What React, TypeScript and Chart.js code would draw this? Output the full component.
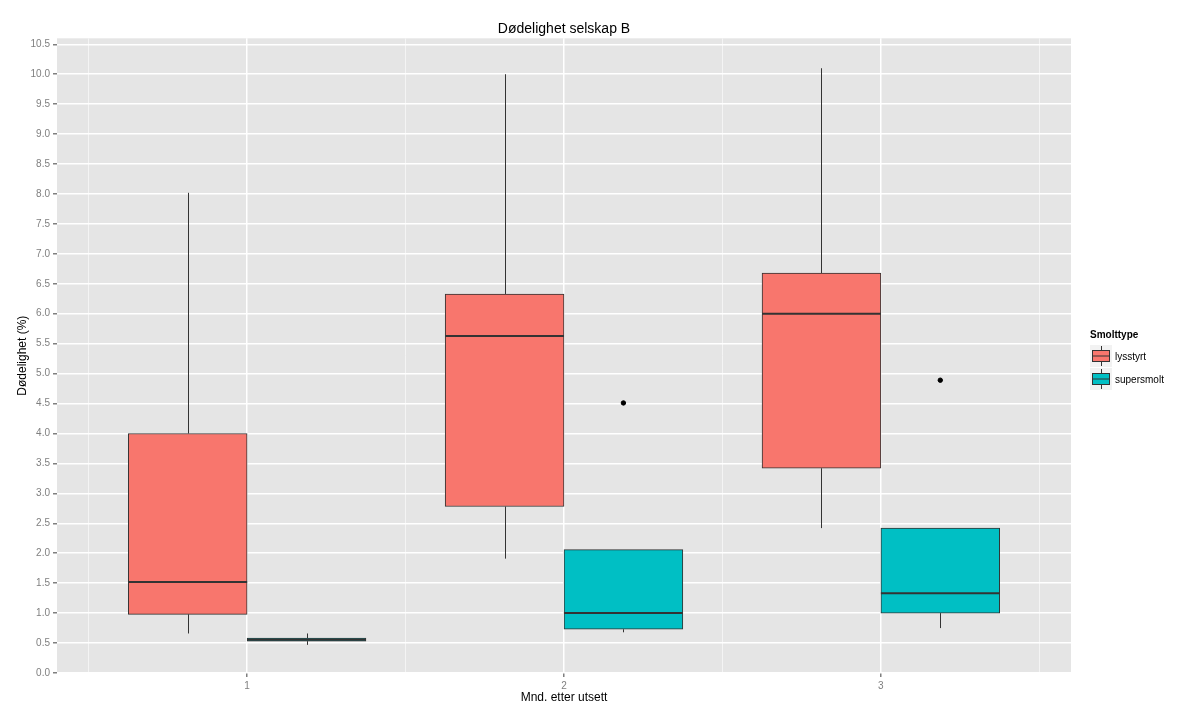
import React, { useEffect, useRef } from "react";
import { Chart, registerables } from "chart.js";

Chart.register(...registerables);

// ---- data ----
const months = [1, 2, 3];
const xTicks = [0.5, 1, 1.5, 2, 2.5, 3, 3.5];
const yTicks = [0, 0.5, 1, 1.5, 2, 2.5, 3, 3.5, 4, 4.5, 5, 5.5, 6, 6.5, 7, 7.5, 8, 8.5, 9, 9.5, 10, 10.5];

const lysstyrtLow = [0.66, 1.91, 2.42];
const lysstyrtQ1 = [0.98, 2.78, 3.42];
const lysstyrtMedian = [1.52, 5.63, 6.0];
const lysstyrtQ3 = [4.0, 6.33, 6.68];
const lysstyrtHigh = [8.02, 10.0, 10.1];

const superLow = [0.47, 0.68, 0.75];
const superQ1 = [0.532, 0.73, 1.0];
const superMedian = [0.557, 1.0, 1.33];
const superQ3 = [0.582, 2.06, 2.42];
const superHigh = [0.66, 2.06, 2.42];

const outlierMonths = [2, 3];
const outlierValues = [4.51, 4.89];

const seriesNames = ["lysstyrt", "supersmolt"];
const seriesColors = ["#F8766D", "#00BFC4"];
const dodgeWidth = 0.75;

const FONT = "'Liberation Sans', Arial, sans-serif";
const BORDER = "#333333";

const stats = [
  { low: lysstyrtLow, q1: lysstyrtQ1, med: lysstyrtMedian, q3: lysstyrtQ3, high: lysstyrtHigh },
  { low: superLow, q1: superQ1, med: superMedian, q3: superQ3, high: superHigh },
];

const boxPlugin = {
  id: "boxplotExtras",
  beforeDraw(chart: any) {
    const { ctx, chartArea } = chart;
    ctx.save();
    ctx.fillStyle = "#E5E5E5";
    ctx.fillRect(chartArea.left, chartArea.top, chartArea.right - chartArea.left, chartArea.bottom - chartArea.top);
    ctx.restore();
  },
  beforeDatasetsDraw(chart: any) {
    const { ctx } = chart;
    const y = chart.scales.y;
    ctx.save();
    ctx.strokeStyle = BORDER;
    ctx.lineWidth = 1;
    stats.forEach((s, di) => {
      const meta = chart.getDatasetMeta(di);
      meta.data.forEach((bar: any, i: number) => {
        const x = Math.round(bar.x) + 0.5;
        ctx.beginPath();
        ctx.moveTo(x, y.getPixelForValue(s.high[i]));
        ctx.lineTo(x, y.getPixelForValue(s.q3[i]));
        ctx.moveTo(x, y.getPixelForValue(s.q1[i]));
        ctx.lineTo(x, y.getPixelForValue(s.low[i]));
        ctx.stroke();
      });
    });
    ctx.restore();
  },
  afterDatasetsDraw(chart: any) {
    const { ctx } = chart;
    const y = chart.scales.y;
    ctx.save();
    ctx.strokeStyle = BORDER;
    ctx.lineWidth = 2;
    stats.forEach((s, di) => {
      const meta = chart.getDatasetMeta(di);
      meta.data.forEach((bar: any, i: number) => {
        const py = y.getPixelForValue(s.med[i]);
        ctx.beginPath();
        ctx.moveTo(bar.x - bar.width / 2, py);
        ctx.lineTo(bar.x + bar.width / 2, py);
        ctx.stroke();
      });
    });
    ctx.restore();
  },
  afterDraw(chart: any) {
    const { ctx } = chart;
    ctx.save();
    const left = chart.chartArea.right + 19;
    ctx.fillStyle = "#000";
    ctx.font = `bold 10px ${FONT}`;
    ctx.textBaseline = "middle";
    ctx.textAlign = "left";
    ctx.fillText("Smolttype", left, 335);
    seriesNames.forEach((name, i) => {
      const top = 345 + i * 23;
      ctx.fillStyle = "#F2F2F2";
      ctx.fillRect(left, top, 22, 22);
      const cx = left + 11.5;
      ctx.strokeStyle = BORDER;
      ctx.lineWidth = 1;
      ctx.beginPath();
      ctx.moveTo(cx, top + 1);
      ctx.lineTo(cx, top + 21);
      ctx.stroke();
      ctx.fillStyle = seriesColors[i];
      ctx.fillRect(left + 2.5, top + 5.5, 17, 11);
      ctx.strokeRect(left + 2.5, top + 5.5, 17, 11);
      ctx.beginPath();
      ctx.moveTo(left + 2.5, top + 11);
      ctx.lineTo(left + 19.5, top + 11);
      ctx.stroke();
      ctx.fillStyle = "#000";
      ctx.font = `10px ${FONT}`;
      ctx.fillText(name, left + 25, top + 12);
    });
    ctx.restore();
  },
};

export default function App() {
  const canvasRef = useRef<HTMLCanvasElement | null>(null);

  useEffect(() => {
    if (!canvasRef.current) return;
    const offsets = [-dodgeWidth / 4, dodgeWidth / 4];
    const barDatasets = stats.map((s, di) => ({
      type: "bar" as const,
      label: seriesNames[di],
      data: months.map((m, i) => ({ x: m + offsets[di], y: [s.q1[i], s.q3[i]] })),
      backgroundColor: seriesColors[di],
      borderColor: BORDER,
      borderWidth: 1,
      borderSkipped: false,
      grouped: false,
      barPercentage: 1,
      categoryPercentage: 1,
    }));
    const outlierDataset = {
      type: "scatter" as const,
      label: "outliers",
      data: outlierMonths.map((m, i) => ({ x: m + offsets[1], y: outlierValues[i] })),
      backgroundColor: "#000",
      borderColor: "#000",
      pointRadius: 2.2,
      showLine: false,
    };

    const chart = new Chart(canvasRef.current, {
      type: "bar",
      data: { datasets: [...barDatasets, outlierDataset] as any },
      plugins: [boxPlugin],
      options: {
        animation: false,
        responsive: false,
        layout: { padding: { top: 0, right: 129, bottom: 0, left: 0 } },
        plugins: {
          legend: { display: false },
          tooltip: { enabled: false },
          title: {
            display: true,
            text: "Dødelighet selskap B",
            fullSize: false,
            color: "#000",
            font: { family: FONT, size: 14, weight: "normal" },
            padding: { top: 21, bottom: 0.5 },
          },
        },
        scales: {
          x: {
            type: "linear",
            min: 0.4,
            max: 3.6,
            offset: false,
            afterBuildTicks: (scale: any) => {
              scale.ticks = xTicks.map((v) => ({ value: v }));
            },
            afterFit: (scale: any) => {
              scale.height = 45;
            },
            border: { display: false },
            grid: {
              offset: false,
              color: (ctx: any) => (Number.isInteger(ctx.tick?.value) ? "#FFFFFF" : "#F4F4F4"),
              lineWidth: (ctx: any) => (Number.isInteger(ctx.tick?.value) ? 1.5 : 1),
              tickColor: (ctx: any) => (Number.isInteger(ctx.tick?.value) ? "#7F7F7F" : "rgba(0,0,0,0)"),
              tickLength: 4,
            },
            ticks: {
              color: "#7F7F7F",
              font: { family: FONT, size: 10 },
              padding: 3,
              maxRotation: 0,
              autoSkip: false,
              callback: (v: any) => (Number.isInteger(v) ? String(v) : ""),
            },
            title: {
              display: true,
              text: "Mnd. etter utsett",
              color: "#000",
              font: { family: FONT, size: 12 },
              padding: { top: 0, bottom: 13 },
            },
          },
          y: {
            type: "linear",
            min: 0,
            max: 10.6,
            afterBuildTicks: (scale: any) => {
              scale.ticks = yTicks.map((v) => ({ value: v }));
            },
            afterFit: (scale: any) => {
              scale.width = 57;
            },
            border: { display: false },
            grid: {
              color: "#FFFFFF",
              lineWidth: 1.5,
              tickColor: "#7F7F7F",
              tickLength: 4,
            },
            ticks: {
              color: "#7F7F7F",
              font: { family: FONT, size: 10 },
              padding: 3,
              autoSkip: false,
              callback: (v: any) => Number(v).toFixed(1),
            },
            title: {
              display: true,
              text: "Dødelighet (%)",
              color: "#000",
              font: { family: FONT, size: 12 },
              padding: { top: 15, bottom: 0 },
            },
          },
        },
      } as any,
    });
    return () => chart.destroy();
  }, []);

  return (
    <div style={{ position: "absolute", left: 0, top: 0, width: 1200, height: 718, background: "#fff" }}>
      <canvas ref={canvasRef} width={1200} height={718} />
    </div>
  );
}
